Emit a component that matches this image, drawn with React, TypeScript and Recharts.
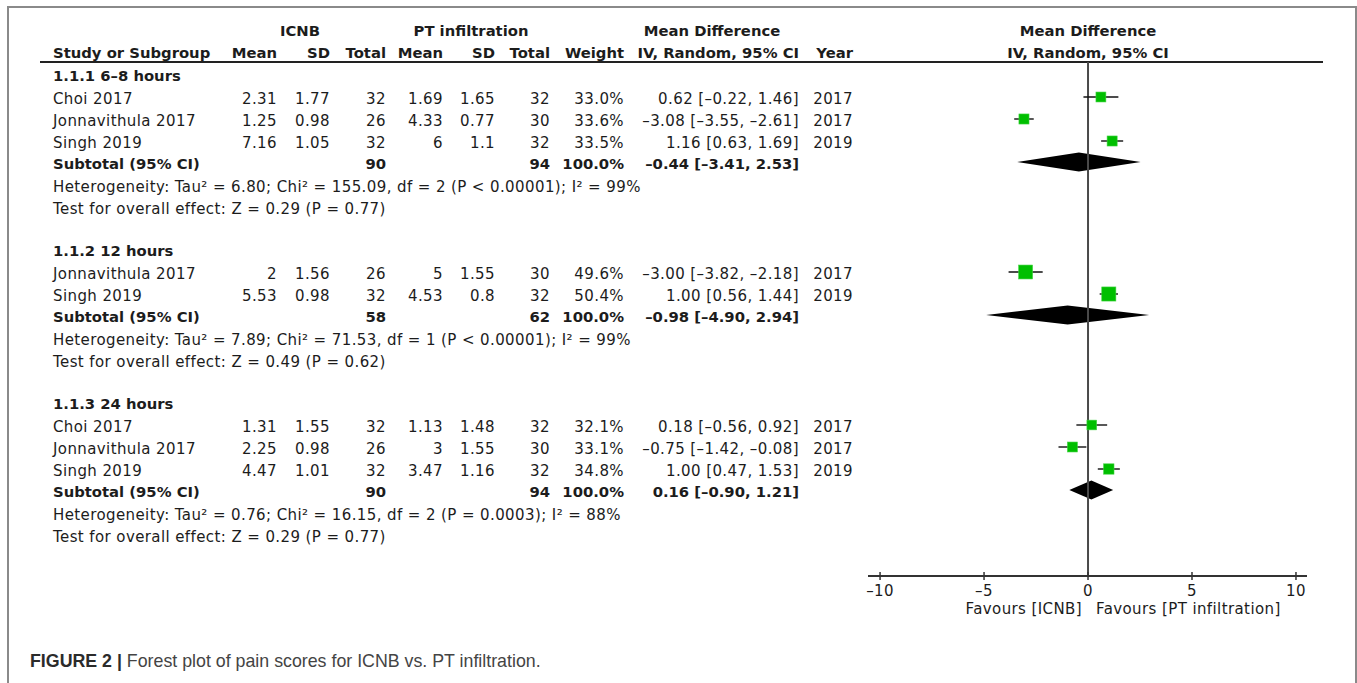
import {
  ComposedChart,
  XAxis,
  YAxis,
  Scatter,
  ErrorBar,
  ReferenceLine,
  ReferenceArea,
} from 'recharts'

// study rows
const GROUP_TITLES = ['1.1.1 6–8 hours', '1.1.2 12 hours', '1.1.3 24 hours']
const STUDY_GROUP = [0, 0, 0, 1, 1, 2, 2, 2]
const STUDY_NAMES = [
  'Choi 2017',
  'Jonnavithula 2017',
  'Singh 2019',
  'Jonnavithula 2017',
  'Singh 2019',
  'Choi 2017',
  'Jonnavithula 2017',
  'Singh 2019',
]
const STUDY_YEARS = [2017, 2017, 2019, 2017, 2019, 2017, 2017, 2019]
const ICNB_MEAN = [2.31, 1.25, 7.16, 2, 5.53, 1.31, 2.25, 4.47]
const ICNB_SD = [1.77, 0.98, 1.05, 1.56, 0.98, 1.55, 0.98, 1.01]
const ICNB_N = [32, 26, 32, 26, 32, 32, 26, 32]
const PT_MEAN = [1.69, 4.33, 6, 5, 4.53, 1.13, 3, 3.47]
const PT_SD = [1.65, 0.77, 1.1, 1.55, 0.8, 1.48, 1.55, 1.16]
const PT_N = [32, 30, 32, 30, 32, 32, 30, 32]
const WEIGHTS = [33.0, 33.6, 33.5, 49.6, 50.4, 32.1, 33.1, 34.8]
const MD = [0.62, -3.08, 1.16, -3.0, 1.0, 0.18, -0.75, 1.0]
const CI_LOW = [-0.22, -3.55, 0.63, -3.82, 0.56, -0.56, -1.42, 0.47]
const CI_HIGH = [1.46, -2.61, 1.69, -2.18, 1.44, 0.92, -0.08, 1.53]

// subgroup totals
const SUB_ICNB_N = [90, 58, 90]
const SUB_PT_N = [94, 62, 94]
const SUB_MD = [-0.44, -0.98, 0.16]
const SUB_LOW = [-3.41, -4.9, -0.9]
const SUB_HIGH = [2.53, 2.94, 1.21]
const TAU2 = ['6.80', '7.89', '0.76']
const CHI2 = ['155.09', '71.53', '16.15']
const DF = [2, 1, 2]
const HET_P = ['P < 0.00001', 'P < 0.00001', 'P = 0.0003']
const I2 = [99, 99, 88]
const Z = ['0.29', '0.49', '0.29']
const Z_P = ['0.77', '0.62', '0.77']

const HEAD_COLS = ['Mean', 'SD', 'Total', 'Mean', 'SD', 'Total', 'Weight', 'IV, Random, 95% CI', 'Year']
const X_TICKS = [-10, -5, 0, 5, 10]
const X_DOMAIN: [number, number] = [-10.58, 10.53]

const W = 1357
const H = 683
const FONT = '"DejaVu Sans", sans-serif'
const INK = '#1c1c1c'

// right edges of table columns
const COL_R = [277, 330, 386, 443, 495, 550, 624, 799, 853]

const PLOT_LEFT = 868
const PLOT_RIGHT = 1307
const PLOT_TOP = 62
const PLOT_BOTTOM = 576
const AXIS_H = 40

const dash = (s: string) => s.replace(/-/g, '–')
const f2 = (v: number) => dash(v.toFixed(2))
const ci = (m: number, lo: number, hi: number) => `${f2(m)} [${f2(lo)}, ${f2(hi)}]`

type Row = { kind: 'title' | 'study' | 'subtotal' | 'het' | 'test'; g: number; i?: number; y: number }

function buildRows(): Row[] {
  const rows: Row[] = []
  let y = 74
  GROUP_TITLES.forEach((_, g) => {
    rows.push({ kind: 'title', g, y })
    y += 23
    STUDY_GROUP.forEach((sg, i) => {
      if (sg === g) {
        rows.push({ kind: 'study', g, i, y })
        y += 22
      }
    })
    y -= 1
    rows.push({ kind: 'subtotal', g, y })
    y += 23
    rows.push({ kind: 'het', g, y })
    y += 22
    rows.push({ kind: 'test', g, y })
    y += 42
  })
  return rows
}

function T({
  x,
  cy,
  align = 'left',
  bold = false,
  children,
}: {
  x: number
  cy: number
  align?: 'left' | 'right' | 'center'
  bold?: boolean
  children: React.ReactNode
}) {
  const style: React.CSSProperties = {
    position: 'absolute',
    top: cy - 8.8,
    whiteSpace: 'nowrap',
    lineHeight: '18px',
    fontFamily: FONT,
    fontSize: bold ? 14.8 : 15,
    fontWeight: bold ? 700 : 400,
    letterSpacing: bold ? '0px' : '0.4px',
    color: INK,
  }
  if (align === 'left') style.left = x
  else if (align === 'right') style.right = W - x
  else {
    style.left = x
    style.transform = 'translateX(-50%)'
  }
  return <div style={style}>{children}</div>
}

function AxisTick(props: any) {
  const { x, y, payload } = props
  return (
    <g>
      <line x1={x} x2={x} y1={y - 4} y2={y + 4} stroke='#333' strokeWidth={1.5} />
      <text
        x={x}
        y={y + 20}
        textAnchor='middle'
        fontFamily={FONT}
        fontSize={15}
        letterSpacing={0.4}
        fill={INK}
      >
        {dash(String(payload.value))}
      </text>
    </g>
  )
}

function WeightSquare(props: any) {
  const { cx, cy, payload } = props
  const s = 2 + 0.24 * payload.w
  return <rect x={cx - s / 2} y={cy - s / 2} width={s} height={s} fill='#00bf00' stroke='#3fd43f' strokeWidth={0.6} />
}

function Diamond(props: any) {
  const { x, y, width, height, frac } = props
  const cx = x + width * frac
  const cy = y + height / 2
  return <polygon points={`${x},${cy} ${cx},${y} ${x + width},${cy} ${cx},${y + height}`} fill='#000' />
}

export default function App() {
  const rows = buildRows()
  const studyY: number[] = []
  const subY: number[] = []
  rows.forEach((r) => {
    if (r.kind === 'study') studyY[r.i as number] = r.y
    if (r.kind === 'subtotal') subY[r.g] = r.y
  })

  const points = MD.map((m, i) => ({
    x: m,
    y: studyY[i],
    w: WEIGHTS[i],
    err: [m - CI_LOW[i], CI_HIGH[i] - m],
  }))

  return (
    <div
      style={{
        position: 'absolute',
        left: 0,
        top: 0,
        width: W,
        height: H,
        overflow: 'hidden',
        background: '#fff',
      }}
    >
      <div
        style={{
          position: 'absolute',
          left: 7,
          top: 6,
          width: 1346,
          height: 720,
          border: '2px solid #8a8a8a',
          borderBottom: 'none',
        }}
      />

      {/* header */}
      <T x={300} cy={31} align='center' bold>ICNB</T>
      <T x={471} cy={31} align='center' bold>PT infiltration</T>
      <T x={712} cy={31} align='center' bold>Mean Difference</T>
      <T x={1088} cy={31} align='center' bold>Mean Difference</T>
      <T x={53} cy={53} bold>Study or Subgroup</T>
      {HEAD_COLS.map((h, k) => (
        <T key={k} x={COL_R[k]} cy={53} align='right' bold>
          {h}
        </T>
      ))}
      <T x={1088} cy={53} align='center' bold>IV, Random, 95% CI</T>
      <div style={{ position: 'absolute', left: 40, top: 61.3, width: 1283, height: 1.4, background: '#222' }} />

      {rows.map((r, k) => {
        const cy = r.y + 2
        if (r.kind === 'title')
          return (
            <T key={k} x={53} cy={cy} bold>
              {GROUP_TITLES[r.g]}
            </T>
          )
        if (r.kind === 'study') {
          const i = r.i as number
          const cells = [
            String(ICNB_MEAN[i]),
            String(ICNB_SD[i]),
            String(ICNB_N[i]),
            String(PT_MEAN[i]),
            String(PT_SD[i]),
            String(PT_N[i]),
            `${WEIGHTS[i].toFixed(1)}%`,
            ci(MD[i], CI_LOW[i], CI_HIGH[i]),
            String(STUDY_YEARS[i]),
          ]
          return (
            <div key={k}>
              <T x={53} cy={cy}>{STUDY_NAMES[i]}</T>
              {cells.map((c, j) => (
                <T key={j} x={COL_R[j]} cy={cy} align='right'>
                  {c}
                </T>
              ))}
            </div>
          )
        }
        if (r.kind === 'subtotal')
          return (
            <div key={k}>
              <T x={53} cy={cy} bold>Subtotal (95% CI)</T>
              <T x={COL_R[2]} cy={cy} align='right' bold>{SUB_ICNB_N[r.g]}</T>
              <T x={COL_R[5]} cy={cy} align='right' bold>{SUB_PT_N[r.g]}</T>
              <T x={COL_R[6]} cy={cy} align='right' bold>100.0%</T>
              <T x={COL_R[7]} cy={cy} align='right' bold>
                {ci(SUB_MD[r.g], SUB_LOW[r.g], SUB_HIGH[r.g])}
              </T>
            </div>
          )
        if (r.kind === 'het')
          return (
            <T key={k} x={53} cy={cy}>
              {`Heterogeneity: Tau² = ${TAU2[r.g]}; Chi² = ${CHI2[r.g]}, df = ${DF[r.g]} (${HET_P[r.g]}); I² = ${I2[r.g]}%`}
            </T>
          )
        return (
          <T key={k} x={53} cy={cy}>
            {`Test for overall effect: Z = ${Z[r.g]} (P = ${Z_P[r.g]})`}
          </T>
        )
      })}

      <ComposedChart
        width={W}
        height={H}
        margin={{
          top: PLOT_TOP,
          right: W - PLOT_RIGHT,
          bottom: H - PLOT_BOTTOM - AXIS_H,
          left: PLOT_LEFT,
        }}
        style={{ position: 'absolute', left: 0, top: 0 }}
      >
        <XAxis
          type='number'
          dataKey='x'
          domain={X_DOMAIN}
          ticks={X_TICKS}
          interval={0}
          allowDataOverflow
          height={AXIS_H}
          axisLine={{ stroke: '#333', strokeWidth: 2 }}
          tickLine={false}
          tickSize={0}
          tickMargin={0}
          tick={<AxisTick />}
        />
        <YAxis type='number' dataKey='y' domain={[PLOT_TOP, PLOT_BOTTOM]} reversed hide width={0} />
        <ReferenceLine x={0} stroke='#4a4a4a' strokeWidth={2} />
        {SUB_MD.map((m, g) => (
          <ReferenceArea
            key={g}
            x1={SUB_LOW[g]}
            x2={SUB_HIGH[g]}
            y1={subY[g] - 9.5}
            y2={subY[g] + 9.5}
            shape={(p: any) => <Diamond {...p} frac={(m - SUB_LOW[g]) / (SUB_HIGH[g] - SUB_LOW[g])} />}
          />
        ))}
        <Scatter data={points} shape={() => <g />} isAnimationActive={false}>
          <ErrorBar dataKey='err' direction='x' width={0} stroke='#111' strokeWidth={1.4} />
        </Scatter>
        <Scatter data={points} shape={<WeightSquare />} isAnimationActive={false} />
      </ComposedChart>

      <T x={1082} cy={609} align='right'>Favours [ICNB]</T>
      <T x={1096} cy={609}>Favours [PT infiltration]</T>

      <div
        style={{
          position: 'absolute',
          left: 30,
          top: 651,
          whiteSpace: 'nowrap',
          lineHeight: '20px',
          fontFamily: '"Liberation Sans", Arial, sans-serif',
          fontSize: 17.8,
          color: '#444',
        }}
      >
        <span style={{ fontWeight: 700, color: '#2b2b2b' }}>FIGURE 2 | </span>
        Forest plot of pain scores for ICNB vs. PT infiltration.
      </div>
    </div>
  )
}
